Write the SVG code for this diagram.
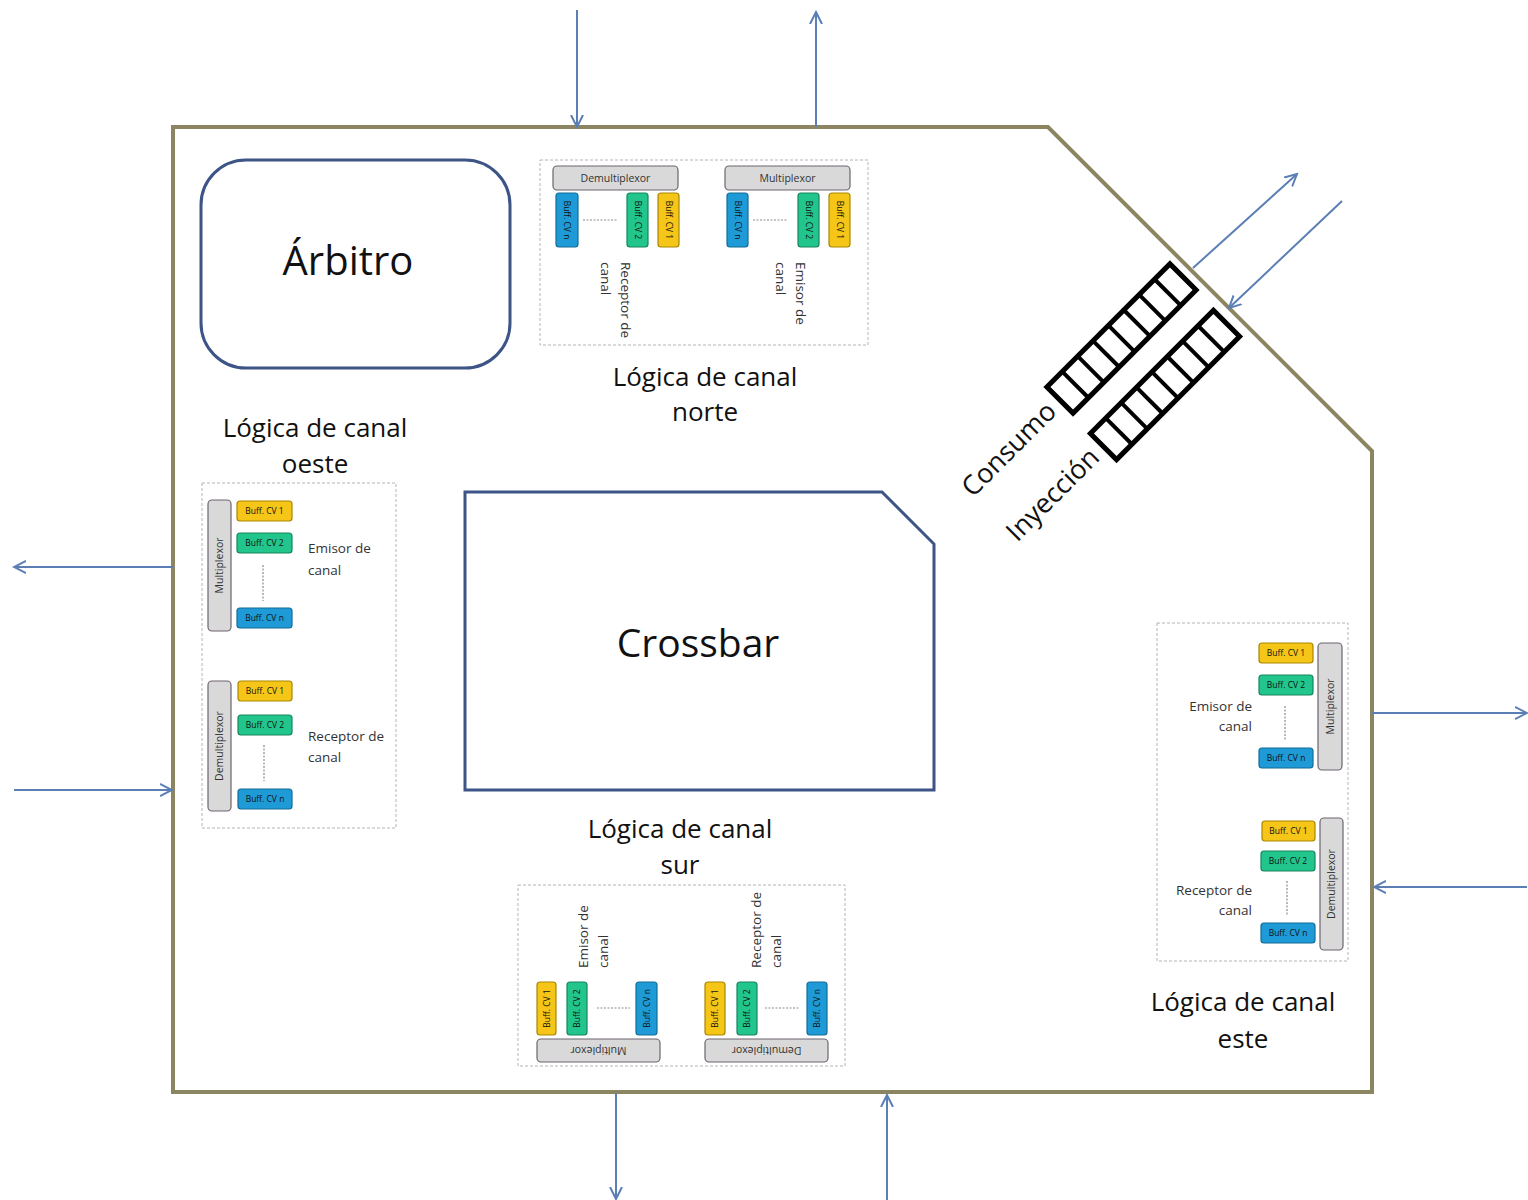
<svg xmlns="http://www.w3.org/2000/svg" width="1528" height="1200" viewBox="0 0 1528 1200">
<defs>
<marker id="arr" markerWidth="14" markerHeight="14" refX="12" refY="7" orient="auto" markerUnits="userSpaceOnUse">
<path d="M0,1 L12,7 L0,13" fill="none" stroke="#5b7fb5" stroke-width="2"/>
</marker>
<style>
.frame{fill:none;stroke:#8c8562;stroke-width:4}
.node{fill:#fff;stroke:#3c5586;stroke-width:3}
.big{font-family:"Open Sans","Liberation Sans",sans-serif;fill:#111}
.lbl{font-family:"Open Sans","Liberation Sans",sans-serif;font-size:26px;fill:#111;text-anchor:middle}
.box{fill:#fff;stroke:#b4b4b4;stroke-width:1;stroke-dasharray:3,2}
.bar{fill:#d9d9d9;stroke:#6d6470;stroke-width:1.2}
.y{fill:#f5c518;stroke:#a98700;stroke-width:1.2}
.g{fill:#22c58b;stroke:#16855d;stroke-width:1.2}
.b{fill:#1e9bd7;stroke:#146c98;stroke-width:1.2}
.bt{font-family:"Open Sans","Liberation Sans",sans-serif;font-size:8.5px;fill:#111;text-anchor:middle}
.mt{font-family:"Open Sans","Liberation Sans",sans-serif;font-size:10.5px;fill:#333;text-anchor:middle}
.st{font-family:"Open Sans","Liberation Sans",sans-serif;font-size:13.5px;fill:#333}
.dl{stroke:#8a8a8a;stroke-width:1.2;stroke-dasharray:2,1.5}
.con{stroke:#5b7fb5;stroke-width:2;fill:none}
.fifo{fill:#fff;stroke:#000;stroke-width:5}
.cell{stroke:#000;stroke-width:4}
.rot{font-family:"Open Sans","Liberation Sans",sans-serif;font-size:27px;fill:#111;text-anchor:end}
</style>
</defs>
<rect width="1528" height="1200" fill="#fff"/>

<g id="router">
<polygon class="frame" points="173,127 1048,127 1372,451 1372,1092 173,1092"/>
</g>

<g id="arbitro">
<rect class="node" x="201" y="160" width="309" height="208" rx="45"/>
<text class="big" x="348" y="275" font-size="40" text-anchor="middle">Árbitro</text>
</g>

<g id="crossbar">
<polygon class="node" points="465,492 882,492 934,544 934,790 465,790" stroke="#2e4a7d"/>
<text class="big" x="698" y="657" font-size="39" text-anchor="middle">Crossbar</text>
</g>

<g id="north-logic">
<rect class="box" x="540" y="160" width="328" height="185"/>
<rect class="bar" x="553" y="166" width="125" height="24" rx="4"/>
<text class="mt" x="615.5" y="181.5">Demultiplexor</text>
<rect class="b" x="556" y="193" width="22" height="54" rx="3"/>
<text class="bt" transform="translate(567,220) rotate(90)" dy="3">Buff. CV n</text>
<line class="dl" x1="583" y1="220" x2="617" y2="220"/>
<rect class="g" x="627" y="193" width="21" height="54" rx="3"/>
<text class="bt" transform="translate(637.5,220) rotate(90)" dy="3">Buff. CV 2</text>
<rect class="y" x="658" y="193" width="21" height="54" rx="3"/>
<text class="bt" transform="translate(668.5,220) rotate(90)" dy="3">Buff. CV 1</text>
<text class="st" transform="translate(621,262) rotate(90)">Receptor de</text>
<text class="st" transform="translate(601,262) rotate(90)">canal</text>
<rect class="bar" x="725" y="166" width="125" height="24" rx="4"/>
<text class="mt" x="787.5" y="181.5">Multiplexor</text>
<rect class="b" x="727" y="193" width="21" height="54" rx="3"/>
<text class="bt" transform="translate(737.5,220) rotate(90)" dy="3">Buff. CV n</text>
<line class="dl" x1="753" y1="220" x2="788" y2="220"/>
<rect class="g" x="798" y="193" width="21" height="54" rx="3"/>
<text class="bt" transform="translate(808.5,220) rotate(90)" dy="3">Buff. CV 2</text>
<rect class="y" x="829" y="193" width="21" height="54" rx="3"/>
<text class="bt" transform="translate(839.5,220) rotate(90)" dy="3">Buff. CV 1</text>
<text class="st" transform="translate(796,262) rotate(90)">Emisor de</text>
<text class="st" transform="translate(776,262) rotate(90)">canal</text>
<text class="lbl" x="705" y="386">Lógica de canal</text>
<text class="lbl" x="705" y="421">norte</text>
</g>

<g id="west-logic">
<rect class="box" x="202" y="483" width="194" height="345"/>
<rect class="bar" x="208" y="500" width="23" height="131" rx="4"/>
<text class="mt" transform="translate(223,565.5) rotate(-90)">Multiplexor</text>
<rect class="y" x="237" y="501" width="55" height="20" rx="3"/>
<text class="bt" x="264.5" y="514">Buff. CV 1</text>
<rect class="g" x="237" y="533" width="55" height="20" rx="3"/>
<text class="bt" x="264.5" y="546">Buff. CV 2</text>
<line class="dl" x1="263" y1="565" x2="263" y2="601"/>
<rect class="b" x="237" y="608" width="55" height="20" rx="3"/>
<text class="bt" x="264.5" y="621">Buff. CV n</text>
<text class="st" x="308" y="553">Emisor de</text>
<text class="st" x="308" y="575">canal</text>
<rect class="bar" x="208" y="681" width="23" height="130" rx="4"/>
<text class="mt" transform="translate(223,746) rotate(-90)">Demultiplexor</text>
<rect class="y" x="238" y="681" width="54" height="20" rx="3"/>
<text class="bt" x="265" y="694">Buff. CV 1</text>
<rect class="g" x="238" y="715" width="54" height="20" rx="3"/>
<text class="bt" x="265" y="728">Buff. CV 2</text>
<line class="dl" x1="264" y1="745" x2="264" y2="781"/>
<rect class="b" x="238" y="789" width="54" height="20" rx="3"/>
<text class="bt" x="265" y="802">Buff. CV n</text>
<text class="st" x="308" y="741">Receptor de</text>
<text class="st" x="308" y="762">canal</text>
<text class="lbl" x="315" y="437">Lógica de canal</text>
<text class="lbl" x="315" y="473">oeste</text>
</g>

<g id="east-logic">
<rect class="box" x="1157" y="623" width="191" height="338"/>
<rect class="bar" x="1318" y="643" width="24" height="127" rx="4"/>
<text class="mt" transform="translate(1333.5,706.5) rotate(-90)">Multiplexor</text>
<rect class="y" x="1259" y="643" width="54" height="20" rx="3"/>
<text class="bt" x="1286" y="656">Buff. CV 1</text>
<rect class="g" x="1259" y="675" width="54" height="20" rx="3"/>
<text class="bt" x="1286" y="688">Buff. CV 2</text>
<line class="dl" x1="1285" y1="706" x2="1285" y2="741"/>
<rect class="b" x="1259" y="748" width="54" height="20" rx="3"/>
<text class="bt" x="1286" y="761">Buff. CV n</text>
<text class="st" x="1252" y="711" text-anchor="end">Emisor de</text>
<text class="st" x="1252" y="731" text-anchor="end">canal</text>
<rect class="bar" x="1320" y="818" width="23" height="132" rx="4"/>
<text class="mt" transform="translate(1335,884) rotate(-90)">Demultiplexor</text>
<rect class="y" x="1262" y="821" width="53" height="20" rx="3"/>
<text class="bt" x="1288.5" y="834">Buff. CV 1</text>
<rect class="g" x="1261" y="851" width="54" height="20" rx="3"/>
<text class="bt" x="1288" y="864">Buff. CV 2</text>
<line class="dl" x1="1287" y1="881" x2="1287" y2="915"/>
<rect class="b" x="1261" y="923" width="54" height="20" rx="3"/>
<text class="bt" x="1288" y="936">Buff. CV n</text>
<text class="st" x="1252" y="895" text-anchor="end">Receptor de</text>
<text class="st" x="1252" y="915" text-anchor="end">canal</text>
<text class="lbl" x="1243" y="1011">Lógica de canal</text>
<text class="lbl" x="1243" y="1048">este</text>
</g>

<g id="south-logic">
<rect class="box" x="518" y="885" width="327" height="181"/>
<rect class="bar" x="537" y="1039" width="123" height="23" rx="4"/>
<text class="mt" transform="translate(598.5,1050.5) rotate(180)" dy="3.5">Multiplexor</text>
<rect class="y" x="537" y="982" width="19" height="53" rx="3"/>
<text class="bt" transform="translate(546.5,1008.5) rotate(-90)" dy="3">Buff. CV 1</text>
<rect class="g" x="567" y="982" width="20" height="53" rx="3"/>
<text class="bt" transform="translate(577,1008.5) rotate(-90)" dy="3">Buff. CV 2</text>
<line class="dl" x1="597" y1="1008" x2="630" y2="1008"/>
<rect class="b" x="636" y="982" width="21" height="53" rx="3"/>
<text class="bt" transform="translate(646.5,1008.5) rotate(-90)" dy="3">Buff. CV n</text>
<text class="st" transform="translate(588,968) rotate(-90)">Emisor de</text>
<text class="st" transform="translate(608,968) rotate(-90)">canal</text>
<rect class="bar" x="705" y="1039" width="123" height="23" rx="4"/>
<text class="mt" transform="translate(766.5,1050.5) rotate(180)" dy="3.5">Demultiplexor</text>
<rect class="y" x="705" y="982" width="20" height="53" rx="3"/>
<text class="bt" transform="translate(715,1008.5) rotate(-90)" dy="3">Buff. CV 1</text>
<rect class="g" x="737" y="982" width="20" height="53" rx="3"/>
<text class="bt" transform="translate(747,1008.5) rotate(-90)" dy="3">Buff. CV 2</text>
<line class="dl" x1="765" y1="1008" x2="799" y2="1008"/>
<rect class="b" x="807" y="982" width="20" height="53" rx="3"/>
<text class="bt" transform="translate(817,1008.5) rotate(-90)" dy="3">Buff. CV n</text>
<text class="st" transform="translate(761,968) rotate(-90)">Receptor de</text>
<text class="st" transform="translate(781,968) rotate(-90)">canal</text>
<text class="lbl" x="680" y="838">Lógica de canal</text>
<text class="lbl" x="680" y="874">sur</text>
</g>

<g id="consumo">
<g transform="translate(1121.5,338.5) rotate(-45)">
<rect class="fifo" x="-87" y="-18.5" width="174" height="37"/>
<line class="cell" x1="-65.25" y1="-18.5" x2="-65.25" y2="18.5"/>
<line class="cell" x1="-43.5" y1="-18.5" x2="-43.5" y2="18.5"/>
<line class="cell" x1="-21.75" y1="-18.5" x2="-21.75" y2="18.5"/>
<line class="cell" x1="0" y1="-18.5" x2="0" y2="18.5"/>
<line class="cell" x1="21.75" y1="-18.5" x2="21.75" y2="18.5"/>
<line class="cell" x1="43.5" y1="-18.5" x2="43.5" y2="18.5"/>
<line class="cell" x1="65.25" y1="-18.5" x2="65.25" y2="18.5"/>
</g>
<text class="rot" transform="translate(1058,413) rotate(-45)">Consumo</text>
</g>

<g id="inyeccion">
<g transform="translate(1165,385) rotate(-45)">
<rect class="fifo" x="-87" y="-18.5" width="174" height="37"/>
<line class="cell" x1="-65.25" y1="-18.5" x2="-65.25" y2="18.5"/>
<line class="cell" x1="-43.5" y1="-18.5" x2="-43.5" y2="18.5"/>
<line class="cell" x1="-21.75" y1="-18.5" x2="-21.75" y2="18.5"/>
<line class="cell" x1="0" y1="-18.5" x2="0" y2="18.5"/>
<line class="cell" x1="21.75" y1="-18.5" x2="21.75" y2="18.5"/>
<line class="cell" x1="43.5" y1="-18.5" x2="43.5" y2="18.5"/>
<line class="cell" x1="65.25" y1="-18.5" x2="65.25" y2="18.5"/>
</g>
<text class="rot" transform="translate(1101,459) rotate(-45)">Inyección</text>
</g>

<g id="connectors">
<line class="con" x1="577" y1="10" x2="577" y2="127" marker-end="url(#arr)"/>
<line class="con" x1="816" y1="127" x2="816" y2="12" marker-end="url(#arr)"/>
<line class="con" x1="173" y1="567" x2="14" y2="567" marker-end="url(#arr)"/>
<line class="con" x1="14" y1="790" x2="172" y2="790" marker-end="url(#arr)"/>
<line class="con" x1="1372" y1="713" x2="1527" y2="713" marker-end="url(#arr)"/>
<line class="con" x1="1527" y1="887" x2="1374" y2="887" marker-end="url(#arr)"/>
<line class="con" x1="616" y1="1093" x2="616" y2="1199" marker-end="url(#arr)"/>
<line class="con" x1="887" y1="1200" x2="887" y2="1095" marker-end="url(#arr)"/>
<line class="con" x1="1193" y1="268" x2="1297" y2="174" marker-end="url(#arr)"/>
<line class="con" x1="1342" y1="201" x2="1229" y2="308" marker-end="url(#arr)"/>
</g>
</svg>
